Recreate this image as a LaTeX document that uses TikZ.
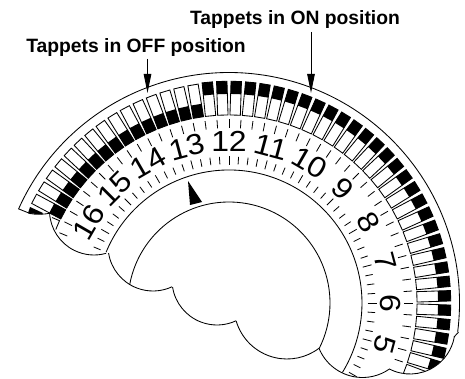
\documentclass[tikz,border=0pt]{standalone}
\usepackage{fontspec}
\setmainfont{Liberation Sans}
\usetikzlibrary{arrows.meta,calc}
\tikzset{
  outline/.style={line width=0.85pt,black},
  tick/.style={line width=0.8pt,black},
  tappet/.style={line width=0.85pt,draw=black},
  lead/.style={line width=0.9pt,-{Triangle[length=19pt,width=7.5pt]}},
  caption/.style={font=\fontsize{19.3}{22}\selectfont\bfseries,inner sep=0pt,anchor=center},
  hour/.style={font=\fontsize{29}{31}\selectfont,inner sep=0pt,xscale=1.1}
}
\begin{document}
\begin{tikzpicture}[x=1pt,y=1pt]
\useasboundingbox (0,0) rectangle (465,378);
\coordinate (c) at (229,75);
% tappets
\begin{scope}
\clip (465,40) -- (454,41) arc[start angle=349.7,end angle=242.3,radius=45] -- (0,9) -- (0,378) -- (465,378) -- cycle;
\foreach \k in {0,...,31}{
  \pgfmathsetmacro\a{95.625-3.75*\k}
  \begin{scope}[shift={(c)},rotate=\a]
    \fill (209,-5.2) rectangle (221.7,5.2);
    \draw[tappet] (188,-5.2) rectangle (221.7,5.2);
  \end{scope}
}
\foreach \k in {0,...,14}{
  \pgfmathsetmacro\a{99.375+3.75*\k}
  \begin{scope}[shift={(c)},rotate=\a]
    \fill (188,-5.2) rectangle (201,5.2);
    \draw[tappet] (188,-5.2) rectangle (221,5.2);
  \end{scope}
}
\end{scope}
% fragments of the cut tappet at the left end
\draw[tappet] (52,160.5) -- (59.5,157.3) -- (55.8,148.5);
\fill (30,171) -- (43,165) -- (42,163.7) -- (28,164.7) -- cycle;
% ticks
\foreach \k in {-8,...,42}{
  \pgfmathsetmacro\a{3.75*\k}
  \pgfmathtruncatemacro\m{mod(\k+80,4)}
  \ifnum\m=0 \def\ri{138.5}\def\ro{147.5}\else \def\ri{139}\def\ro{146.5}\fi
  \draw[tick,shift={(c)},rotate=\a] (\ri,0) -- (\ro,0);
}
\foreach \k in {-5,...,42}{
  \pgfmathsetmacro\a{3.75*\k}
  \draw[tick,shift={(c)},rotate=\a] (175,0) -- (183.5,0);
}
% hour numbers
\foreach \n in {5,...,16}{
  \pgfmathsetmacro\a{(\n-6)*15}
  \pgfmathsetmacro\r{\a-90}
  \node[rotate=\r,hour] (h\n) at ($(c)+(\a:161.5)$) {\n};
}
% outer rim and scallops
\draw[outline] (c) ++(-7.2:230.5) arc[start angle=-7.2,end angle=155.9,radius=230.5]
  -- (30,164.5) .. controls (36,163.2) and (44,163.5) .. (51,165);
\draw[outline] (458.6,46) -- (454,41);
\draw[outline] (c) ++(157.5:133) arc[start angle=157.5,end angle=-31.5,radius=133];
\draw[outline] (c) ++(169.7:101) arc[start angle=169.7,end angle=-26.6,radius=101];
\draw[outline] (94,167.5) ++(183.3:44.5) arc[start angle=183.3,end angle=285.8,radius=44.5];
\draw[outline] (153,132) ++(189:45) arc[start angle=189,end angle=295,radius=45];
\draw[outline] (217,98) ++(189:45) arc[start angle=189,end angle=295,radius=45];
\draw[outline] (287,72) ++(196.4:53) arc[start angle=196.4,end angle=307.3,radius=53];
\draw[outline] (362.5,47.5) ++(201.9:47) arc[start angle=201.9,end angle=304.5,radius=47];
\draw[outline] (410,49) ++(242.3:45) arc[start angle=242.3,end angle=349.7,radius=45];
% pointer
\fill (188,197) -- (190,173) -- (202,176) -- cycle;
% captions and leaders
\node[caption] (on) at (295,358) {Tappets in ON position};
\node[caption] (off) at (136,330.5) {Tappets in OFF position};
\coordinate (ontip) at (311,285);
\coordinate (offtip) at (147.5,285);
\draw[lead] (ontip |- 0,346) -- (ontip);
\draw[lead] (offtip |- 0,319) -- (offtip);
\end{tikzpicture}
\end{document}
